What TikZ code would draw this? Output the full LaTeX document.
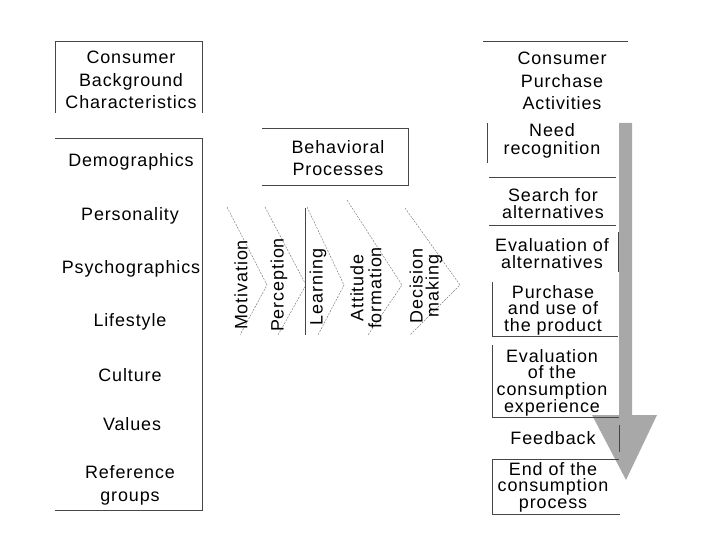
\documentclass[tikz,border=0pt]{standalone}
\usepackage{fontspec}
\setmainfont{Liberation Sans}[LetterSpace=5]
\usetikzlibrary{arrows}
\definecolor{arrowgray}{RGB}{168,168,168}
\definecolor{linegray}{RGB}{70,70,70}

\begin{document}
\begin{tikzpicture}[x=1bp,y=-1bp,
  txt/.style={align=center,inner sep=0pt,font=\fontsize{18}{#1}\selectfont},
  txt/.default=22.5,
  edge/.style={line width=0.8bp,linegray},
  chev/.style={line width=0.5bp,gray,dash pattern=on 2pt off 1.2pt}]
\useasboundingbox (0,0) rectangle (720,540);

% big arrow behind the activities
\fill[arrowgray](619,123)--(632,123)--(632,415)--(657,415)--(626,480)--(592,415)--(619,415)--cycle;

% left column
\node[txt] (back) at (131,80) {Consumer\\Background\\Characteristics};
\node[txt] (demo) at (131,162) {Demographics};
\node[txt] (pers) at (130,216) {Personality};
\node[txt] (psyc) at (131,269) {Psychographics};
\node[txt] (life) at (130,322) {Lifestyle};
\node[txt] (cult) at (130,375) {Culture};
\node[txt] (vals) at (132,424) {Values};
\node[txt=23] (refg) at (130,485) {Reference\\groups};
\draw[edge](55,113)--(55,41)--(202,41)--(202,113);
\draw[edge](55,138)--(202,138)--(202,510)--(55,510);

% behavioral processes
\node[txt=22] (behv) at (338,158) {Behavioral\\Processes};
\draw[edge](262,128)--(408,128)--(408,185)--(262,185);
\draw[chev](227,207)--(267,285)--(240,335);
\draw[chev](265,207)--(306,285)--(278,335);
\draw[chev](307,207)--(344,285)--(318,335);
\draw[chev](347,200)--(402,285)--(368,335);
\draw[chev](405,208)--(460,285)--(410,335);
\draw[edge](305,208)--(305,335);
\node[txt,rotate=90] (moti) at (241,285) {Motivation};
\node[txt,rotate=90] (perc) at (279,285) {Perception};
\node[txt,rotate=90] (lear) at (318,287) {Learning};
\node[txt=18,rotate=90] (attf) at (366,288) {Attitude\\formation};
\node[txt=16,rotate=90] (decm) at (426,286) {Decision\\making};

% right column
\node[txt] (purc) at (562,81) {Consumer\\Purchase\\Activities};
\node[txt=18] (need) at (552,141) {Need\\recognition};
\node[txt=17] (srch) at (553,204) {Search for\\alternatives};
\node[txt=17] (eval) at (552,254) {Evaluation of\\alternatives};
\node[txt=16.6] (puse) at (553,310) {Purchase\\and use of\\the product};
\node[txt=16.3] (evcx) at (552,383) {Evaluation\\of the\\consumption\\experience};
\node[txt] (feed) at (553,438) {Feedback};
\node[txt=16.5] (endp) at (553,487) {End of the\\consumption\\process};
\draw[edge](483,41)--(628,41);
\draw[edge](487,123)--(487,163)(489,177)--(616,177)(489,225)--(616,225)
(618,232)--(618,272)(492,282)--(492,336)--(618,336)
(492,345)--(492,417)--(619,417)(619,425)--(619,452)
(619,459)--(492,459)--(492,514)--(620,514);
\end{tikzpicture}
\end{document}
